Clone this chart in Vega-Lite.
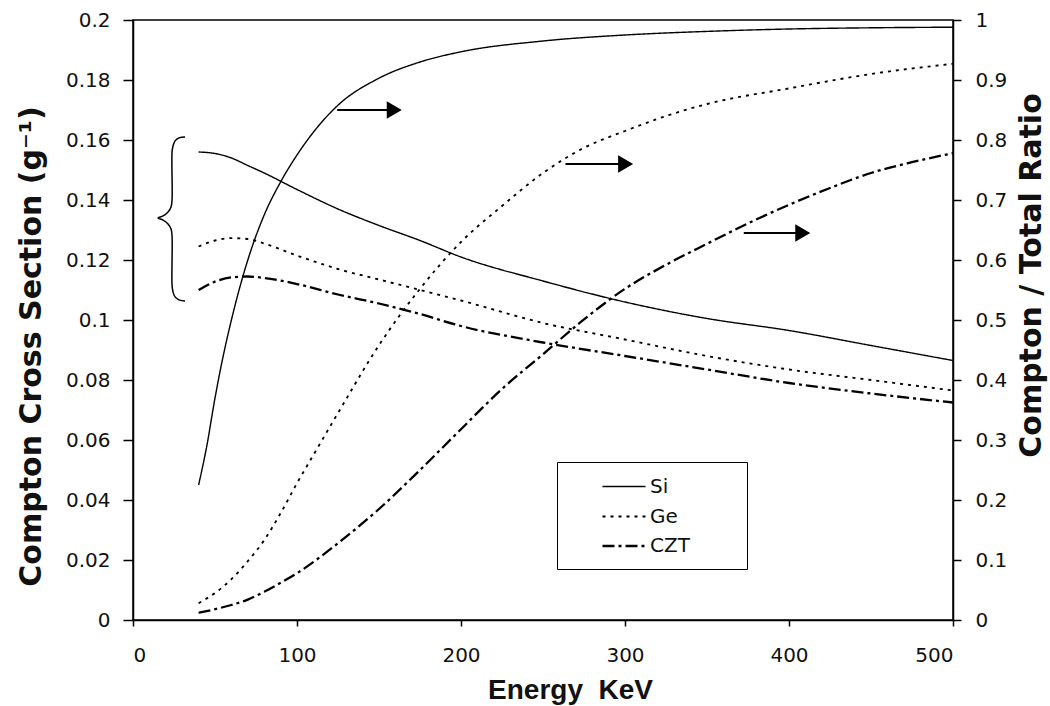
{
  "$schema": "https://vega.github.io/schema/vega-lite/v6.json",
  "width": 820,
  "height": 600,
  "autosize": "none",
  "padding": {"left": 133, "top": 20, "right": 97, "bottom": 86},
  "background": "white",
  "config": {
    "view": {"stroke": "black", "strokeWidth": 1.5},
    "axis": {
      "grid": false,
      "domainColor": "black",
      "domainWidth": 1.5,
      "tickColor": "black",
      "tickWidth": 1.5,
      "labelFont": "DejaVu Sans",
      "labelFontSize": 20,
      "labelColor": "#111",
      "titleFont": "DejaVu Sans",
      "titleFontWeight": "bold",
      "titleColor": "#111"
    }
  },
  "datasets": {
    "cs": [
      {"E": 40, "v": 0.156, "m": "Si"}, {"E": 50, "v": 0.1555, "m": "Si"}, {"E": 60, "v": 0.154, "m": "Si"}, {"E": 70, "v": 0.1515, "m": "Si"}, {"E": 80, "v": 0.149, "m": "Si"}, {"E": 100, "v": 0.1435, "m": "Si"}, {"E": 125, "v": 0.137, "m": "Si"}, {"E": 150, "v": 0.1315, "m": "Si"}, {"E": 175, "v": 0.1265, "m": "Si"}, {"E": 200, "v": 0.121, "m": "Si"}, {"E": 250, "v": 0.113, "m": "Si"}, {"E": 300, "v": 0.106, "m": "Si"}, {"E": 350, "v": 0.1005, "m": "Si"}, {"E": 400, "v": 0.0965, "m": "Si"}, {"E": 450, "v": 0.0915, "m": "Si"}, {"E": 500, "v": 0.0865, "m": "Si"},
      {"E": 40, "v": 0.1245, "m": "Ge"}, {"E": 50, "v": 0.1265, "m": "Ge"}, {"E": 60, "v": 0.1273, "m": "Ge"}, {"E": 70, "v": 0.127, "m": "Ge"}, {"E": 80, "v": 0.1255, "m": "Ge"}, {"E": 100, "v": 0.1215, "m": "Ge"}, {"E": 125, "v": 0.117, "m": "Ge"}, {"E": 150, "v": 0.1135, "m": "Ge"}, {"E": 175, "v": 0.11, "m": "Ge"}, {"E": 200, "v": 0.1065, "m": "Ge"}, {"E": 250, "v": 0.099, "m": "Ge"}, {"E": 300, "v": 0.0935, "m": "Ge"}, {"E": 350, "v": 0.088, "m": "Ge"}, {"E": 400, "v": 0.0835, "m": "Ge"}, {"E": 450, "v": 0.08, "m": "Ge"}, {"E": 500, "v": 0.0765, "m": "Ge"},
      {"E": 40, "v": 0.11, "m": "CZT"}, {"E": 50, "v": 0.1128, "m": "CZT"}, {"E": 60, "v": 0.1142, "m": "CZT"}, {"E": 70, "v": 0.1145, "m": "CZT"}, {"E": 80, "v": 0.114, "m": "CZT"}, {"E": 100, "v": 0.112, "m": "CZT"}, {"E": 125, "v": 0.1085, "m": "CZT"}, {"E": 150, "v": 0.1055, "m": "CZT"}, {"E": 175, "v": 0.102, "m": "CZT"}, {"E": 200, "v": 0.098, "m": "CZT"}, {"E": 250, "v": 0.0925, "m": "CZT"}, {"E": 300, "v": 0.088, "m": "CZT"}, {"E": 350, "v": 0.0835, "m": "CZT"}, {"E": 400, "v": 0.079, "m": "CZT"}, {"E": 450, "v": 0.0755, "m": "CZT"}, {"E": 500, "v": 0.0725, "m": "CZT"}
    ],
    "ratio": [
      {"E": 40, "r": 0.225, "m": "Si"}, {"E": 45, "r": 0.29, "m": "Si"}, {"E": 50, "r": 0.37, "m": "Si"}, {"E": 55, "r": 0.44, "m": "Si"}, {"E": 60, "r": 0.5, "m": "Si"}, {"E": 70, "r": 0.6, "m": "Si"}, {"E": 80, "r": 0.675, "m": "Si"}, {"E": 90, "r": 0.73, "m": "Si"}, {"E": 100, "r": 0.775, "m": "Si"}, {"E": 110, "r": 0.813, "m": "Si"}, {"E": 125, "r": 0.858, "m": "Si"}, {"E": 150, "r": 0.903, "m": "Si"}, {"E": 175, "r": 0.93, "m": "Si"}, {"E": 200, "r": 0.947, "m": "Si"}, {"E": 250, "r": 0.965, "m": "Si"}, {"E": 300, "r": 0.975, "m": "Si"}, {"E": 350, "r": 0.981, "m": "Si"}, {"E": 400, "r": 0.985, "m": "Si"}, {"E": 450, "r": 0.987, "m": "Si"}, {"E": 500, "r": 0.988, "m": "Si"},
      {"E": 40, "r": 0.028, "m": "Ge"}, {"E": 50, "r": 0.045, "m": "Ge"}, {"E": 60, "r": 0.068, "m": "Ge"}, {"E": 70, "r": 0.098, "m": "Ge"}, {"E": 80, "r": 0.133, "m": "Ge"}, {"E": 90, "r": 0.178, "m": "Ge"}, {"E": 100, "r": 0.228, "m": "Ge"}, {"E": 110, "r": 0.275, "m": "Ge"}, {"E": 125, "r": 0.345, "m": "Ge"}, {"E": 150, "r": 0.458, "m": "Ge"}, {"E": 175, "r": 0.552, "m": "Ge"}, {"E": 200, "r": 0.63, "m": "Ge"}, {"E": 225, "r": 0.69, "m": "Ge"}, {"E": 250, "r": 0.745, "m": "Ge"}, {"E": 275, "r": 0.787, "m": "Ge"}, {"E": 300, "r": 0.815, "m": "Ge"}, {"E": 325, "r": 0.84, "m": "Ge"}, {"E": 350, "r": 0.86, "m": "Ge"}, {"E": 400, "r": 0.886, "m": "Ge"}, {"E": 450, "r": 0.91, "m": "Ge"}, {"E": 500, "r": 0.927, "m": "Ge"},
      {"E": 40, "r": 0.012, "m": "CZT"}, {"E": 50, "r": 0.018, "m": "CZT"}, {"E": 60, "r": 0.025, "m": "CZT"}, {"E": 70, "r": 0.034, "m": "CZT"}, {"E": 80, "r": 0.047, "m": "CZT"}, {"E": 90, "r": 0.062, "m": "CZT"}, {"E": 100, "r": 0.078, "m": "CZT"}, {"E": 125, "r": 0.128, "m": "CZT"}, {"E": 150, "r": 0.185, "m": "CZT"}, {"E": 175, "r": 0.25, "m": "CZT"}, {"E": 200, "r": 0.318, "m": "CZT"}, {"E": 225, "r": 0.385, "m": "CZT"}, {"E": 250, "r": 0.443, "m": "CZT"}, {"E": 275, "r": 0.501, "m": "CZT"}, {"E": 300, "r": 0.552, "m": "CZT"}, {"E": 325, "r": 0.592, "m": "CZT"}, {"E": 350, "r": 0.627, "m": "CZT"}, {"E": 375, "r": 0.661, "m": "CZT"}, {"E": 400, "r": 0.692, "m": "CZT"}, {"E": 425, "r": 0.72, "m": "CZT"}, {"E": 450, "r": 0.745, "m": "CZT"}, {"E": 475, "r": 0.763, "m": "CZT"}, {"E": 500, "r": 0.778, "m": "CZT"}
    ],
    "arrows": [
      {"from": 124.5, "to": 159.3, "y": 0.17},
      {"from": 263.7, "to": 300.4, "y": 0.152},
      {"from": 372.4, "to": 408.4, "y": 0.129}
    ],
    "brace": [
      {"i": 0, "x": 31.75, "y": 0.161}, {"i": 1, "x": 28.08, "y": 0.1607}, {"i": 2, "x": 25.64, "y": 0.1597}, {"i": 3, "x": 24.42, "y": 0.158}, {"i": 4, "x": 23.81, "y": 0.156},
      {"i": 5, "x": 23.81, "y": 0.14}, {"i": 6, "x": 23.2, "y": 0.1377}, {"i": 7, "x": 21.37, "y": 0.136}, {"i": 8, "x": 18.32, "y": 0.1347}, {"i": 9, "x": 15.26, "y": 0.134},
      {"i": 10, "x": 18.32, "y": 0.1333}, {"i": 11, "x": 21.37, "y": 0.132}, {"i": 12, "x": 23.2, "y": 0.1303}, {"i": 13, "x": 23.81, "y": 0.128}, {"i": 14, "x": 23.81, "y": 0.1117},
      {"i": 15, "x": 24.42, "y": 0.1093}, {"i": 16, "x": 25.64, "y": 0.1077}, {"i": 17, "x": 28.08, "y": 0.1067}, {"i": 18, "x": 31.75, "y": 0.1063}
    ]
  },
  "layer": [
    {
      "data": {"name": "cs"},
      "mark": {"type": "line", "interpolate": "monotone", "color": "black"},
      "encoding": {
        "x": {
          "field": "E", "type": "quantitative",
          "scale": {"domain": [0, 500], "nice": false},
          "axis": {
            "values": [0, 100, 200, 300, 400, 500],
            "tickSize": 6,
            "labelPadding": 19,
            "title": "Energy\u00a0\u00a0KeV",
            "titleFont": "Liberation Sans",
            "titleFontSize": 28,
            "titleBaseline": "alphabetic",
            "titleX": 437,
            "titleY": 78
          }
        },
        "y": {
          "field": "v", "type": "quantitative",
          "scale": {"domain": [0, 0.2], "nice": false},
          "axis": {
            "orient": "left",
            "values": [0, 0.02, 0.04, 0.06, 0.08, 0.1, 0.12, 0.14, 0.16, 0.18, 0.2],
            "format": "~g",
            "tickSize": 10,
            "labelPadding": 13,
            "title": "Compton Cross Section (g⁻¹)",
            "titleFontSize": 30,
            "titleAngle": 270,
            "titleBaseline": "alphabetic",
            "titleX": -93,
            "titleY": 326
          }
        },
        "strokeWidth": {
          "field": "m", "type": "nominal",
          "scale": {"domain": ["Si", "Ge", "CZT"], "range": [1.4, 2.3, 2.3]},
          "legend": null
        },
        "strokeDash": {
          "field": "m", "type": "nominal",
          "scale": {"domain": ["Si", "Ge", "CZT"], "range": [[1, 0], [3, 5], [12, 4, 3, 4]]},
          "legend": {
            "orient": "none",
            "legendX": 424,
            "legendY": 442,
            "title": null,
            "strokeColor": "black",
            "fillColor": "white",
            "padding": 13,
            "symbolType": "M-2,0H2",
            "symbolSize": 462,
            "symbolStrokeWidth": 1.5,
            "symbolStrokeColor": "black",
            "symbolOffset": 42,
            "labelOffset": 14,
            "labelFont": "DejaVu Sans",
            "labelFontSize": 20,
            "labelColor": "#111",
            "rowPadding": 7.5,
            "labelExpr": "datum.label + '\u2800\u2800\u2800'"
          }
        }
      }
    },
    {
      "data": {"name": "ratio"},
      "mark": {"type": "line", "interpolate": "monotone", "color": "black"},
      "encoding": {
        "x": {"field": "E", "type": "quantitative"},
        "y": {
          "field": "r", "type": "quantitative",
          "scale": {"domain": [0, 1], "nice": false},
          "axis": {
            "orient": "right",
            "values": [0, 0.1, 0.2, 0.3, 0.4, 0.5, 0.6, 0.7, 0.8, 0.9, 1],
            "format": "~g",
            "tickSize": 8,
            "labelPadding": 14,
            "title": "Compton / Total Ratio",
            "titleFontSize": 30,
            "titleAngle": 270,
            "titleBaseline": "alphabetic",
            "titleX": 87,
            "titleY": 255
          }
        },
        "strokeWidth": {"field": "m", "type": "nominal", "legend": null},
        "strokeDash": {"field": "m", "type": "nominal", "legend": null}
      }
    },
    {
      "data": {"name": "arrows"},
      "mark": {"type": "rule", "color": "black", "strokeWidth": 1.8},
      "encoding": {
        "x": {"field": "from", "type": "quantitative"},
        "x2": {"field": "to"},
        "y": {"field": "y", "type": "quantitative", "scale": {"domain": [0, 0.2], "nice": false}, "axis": null}
      }
    },
    {
      "data": {"name": "arrows"},
      "mark": {"type": "point", "shape": "triangle-right", "filled": true, "color": "black", "size": 300, "opacity": 1},
      "encoding": {
        "x": {"field": "to", "type": "quantitative"},
        "y": {"field": "y", "type": "quantitative", "scale": {"domain": [0, 0.2], "nice": false}, "axis": null}
      }
    },
    {
      "data": {"name": "brace"},
      "mark": {"type": "line", "interpolate": "catmull-rom", "color": "black", "strokeWidth": 1.5},
      "encoding": {
        "x": {"field": "x", "type": "quantitative"},
        "y": {"field": "y", "type": "quantitative", "scale": {"domain": [0, 0.2], "nice": false}, "axis": null},
        "order": {"field": "i", "type": "quantitative"}
      }
    }
  ],
  "resolve": {"scale": {"y": "independent"}}
}
